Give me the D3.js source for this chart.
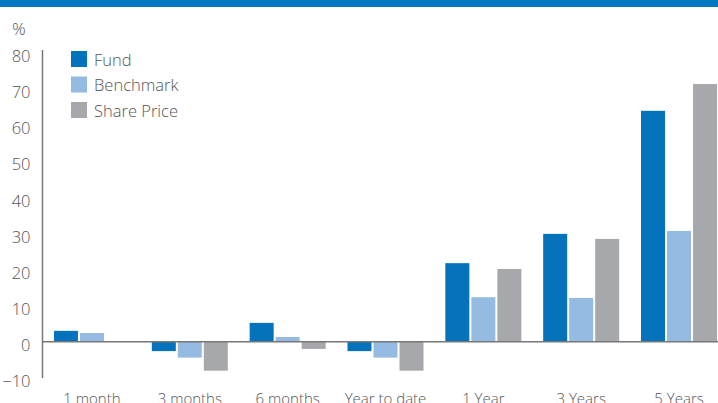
<!DOCTYPE html>
<html><head><meta charset="utf-8">
<script src="https://cdn.jsdelivr.net/npm/d3@7"></script>
<style>
html,body{margin:0;padding:0;background:#fff;overflow:hidden;}
svg{display:block;font-family:"Open Sans",sans-serif;}
</style></head>
<body>
<svg id="chart" width="718" height="403"></svg>
<script>
const categories = ["1 month","3 months","6 months","Year to date","1 Year","3 Years","5 Years"];
const seriesNames = ["Fund","Benchmark","Share Price"];
const fund = [3.0,-2.6,5.2,-2.6,21.7,29.8,63.8];
const benchmark = [2.4,-4.4,1.3,-4.4,12.3,12.1,30.6];
const sharePrice = [0,-8.0,-2.0,-8.0,20.1,28.4,71.2];
const yTicks = [-10,0,10,20,30,40,50,60,70,80];
const colors = ["#0573bb","#96bbe2","#a7a8ac"];

const svg = d3.select("#chart");
const W = 718, H = 403;

// top band
svg.append("rect").attr("x",0).attr("y",0).attr("width",W).attr("height",7).attr("fill","#0077c1");

const y = d3.scaleLinear().domain([-10,80]).range([377.9,52.2]);
const x0 = d3.scaleBand().domain(categories).range([43,728]).paddingInner(0.223).paddingOuter(0.112);
const x1 = d3.scaleBand().domain(seriesNames).range([0,x0.bandwidth()]).paddingInner(2/26).paddingOuter(0);

const data = categories.map((c,i)=>({cat:c, vals:[fund[i],benchmark[i],sharePrice[i]]}));

const g = svg.append("g");
const groups = g.selectAll("g.grp").data(data).join("g").attr("class","grp")
  .attr("transform",d=>`translate(${x0(d.cat)},0)`);
groups.selectAll("rect").data(d=>d.vals.map((v,k)=>({v,k}))).join("rect")
  .attr("x",d=>x1(seriesNames[d.k]))
  .attr("width",x1.bandwidth())
  .attr("y",d=>y(Math.max(0,d.v)))
  .attr("height",d=>Math.abs(y(d.v)-y(0)))
  .attr("fill",d=>colors[d.k]);

// y axis
const yAxis = d3.axisLeft(y).tickValues(yTicks).tickSize(0).tickPadding(12).tickFormat(d3.format("d"));
const ya = svg.append("g").attr("transform","translate(42.5,0)").call(yAxis);
ya.select(".domain").remove();
ya.selectAll("text").attr("fill","#555").attr("font-size","16.5px").attr("font-weight",300).attr("dy","0.55em")
  .attr("font-family","'Open Sans',sans-serif");
svg.append("line").attr("x1",42.5).attr("x2",42.5).attr("y1",50).attr("y2",378)
  .attr("stroke","#777").attr("stroke-width",1.5);

// zero line
svg.append("line").attr("x1",42).attr("x2",W).attr("y1",y(0)).attr("y2",y(0))
  .attr("stroke","#777").attr("stroke-width",1.5);

// x axis labels
const xAxis = d3.axisBottom(x0).tickSize(0).tickPadding(0);
const xa = svg.append("g").attr("transform","translate(0,390)").call(xAxis);
xa.select(".domain").remove();
xa.selectAll("text").attr("fill","#555").attr("font-size","15px").attr("font-weight",300).attr("dy","0.95em")
  .attr("font-family","'Open Sans',sans-serif");

// % label
svg.append("text").attr("x",12).attr("y",35).attr("fill","#555").attr("font-size","17px").attr("font-weight",300).text("%");

// legend
const lg = svg.append("g").attr("transform","translate(71,51)");
seriesNames.forEach((s,i)=>{
  const r = lg.append("g").attr("transform",`translate(0,${i*25.5})`);
  r.append("rect").attr("width",16).attr("height",16).attr("fill",colors[i]);
  r.append("text").attr("x",23).attr("y",14.5).attr("fill","#555").attr("font-size","16.5px").attr("font-weight",300).text(s);
});
</script>
</body></html>
